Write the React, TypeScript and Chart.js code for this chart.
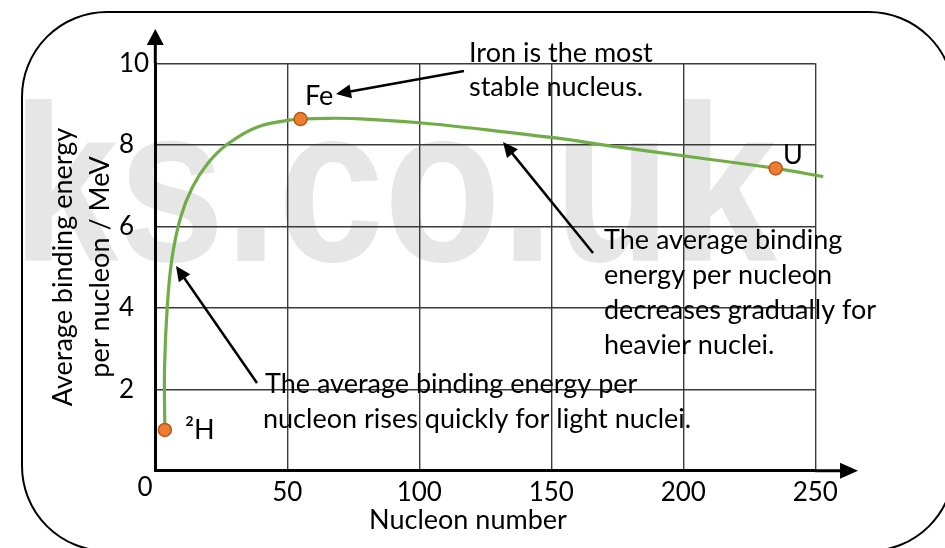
import React, { useEffect, useRef } from 'react';
import { Chart, registerables } from 'chart.js';

Chart.register(...registerables);

// Curve of average binding energy per nucleon (MeV) against nucleon number
const curveX = [3.6, 3.5, 4.5, 6.3, 9.5, 14, 20, 27, 38, 50, 55, 65, 76, 100, 125, 150, 175, 200, 235, 253];
const curveY = [1.0, 2.5, 4.0, 5.2, 6.2, 6.95, 7.55, 8.0, 8.42, 8.6, 8.63, 8.65, 8.64, 8.54, 8.37, 8.18, 7.95, 7.73, 7.42, 7.22];

// Highlighted nuclei
const markerNames = ['²H', 'Fe', 'U'];
const markerX = [3.6, 55, 235];
const markerY = [1.0, 8.63, 7.42];

// Axis settings
const xMin = 0;
const xMax = 250;
const xStep = 50;
const yMin = 0;
const yMax = 10;
const yStep = 2;
const xTitle = 'Nucleon number';
const yTitle = ['Average binding energy', 'per nucleon / MeV'];

const noteIron = ['Iron is the most', 'stable nucleus.'];
const noteHeavy = ['The average binding', 'energy per nucleon', 'decreases gradually for', 'heavier nuclei.'];
const noteLight = ['The average binding energy per', 'nucleon rises quickly for light nuclei.'];

const FONT = 'Lato, "Open Sans", sans-serif';
const FS = 27;
const TFS = 26;

function drawArrow(ctx: CanvasRenderingContext2D, x1: number, y1: number, x2: number, y2: number, head = 15, half = 7, lw = 2.5) {
  const ang = Math.atan2(y2 - y1, x2 - x1);
  const bx = x2 - head * Math.cos(ang);
  const by = y2 - head * Math.sin(ang);
  ctx.save();
  ctx.strokeStyle = '#000';
  ctx.fillStyle = '#000';
  ctx.lineWidth = lw;
  ctx.beginPath();
  ctx.moveTo(x1, y1);
  ctx.lineTo(bx + 2 * Math.cos(ang), by + 2 * Math.sin(ang));
  ctx.stroke();
  ctx.beginPath();
  ctx.moveTo(x2, y2);
  ctx.lineTo(bx + half * Math.sin(ang), by - half * Math.cos(ang));
  ctx.lineTo(bx - half * Math.sin(ang), by + half * Math.cos(ang));
  ctx.closePath();
  ctx.fill();
  ctx.restore();
}

const decorPlugin = {
  id: 'decor',
  beforeDraw(chart: any) {
    const ctx = chart.ctx as CanvasRenderingContext2D;
    ctx.save();
    ctx.fillStyle = '#e6e6e6';
    ctx.font = 'bold 223px "Liberation Sans", Arial, sans-serif';
    ctx.textBaseline = 'alphabetic';
    ctx.textAlign = 'left';
    ctx.fillText('ks.co.uk', 12, 261, 765);
    ctx.restore();
  },
  afterDraw(chart: any) {
    const ctx = chart.ctx as CanvasRenderingContext2D;
    const area = chart.chartArea;
    const xs = chart.scales.x;
    const ys = chart.scales.y;
    const ox = xs.getPixelForValue(0);
    const oy = ys.getPixelForValue(0);

    ctx.save();
    // rounded frame
    ctx.strokeStyle = '#000';
    ctx.lineWidth = 2;
    const L = 22, T = 12, R = 954, B = 551, r = 85;
    ctx.beginPath();
    ctx.moveTo(L + r, T);
    ctx.lineTo(R - r, T);
    ctx.arcTo(R, T, R, T + r, r);
    ctx.lineTo(R, B - r);
    ctx.arcTo(R, B, R - r, B, r);
    ctx.lineTo(L + r, B);
    ctx.arcTo(L, B, L, B - r, r);
    ctx.lineTo(L, T + r);
    ctx.arcTo(L, T, L + r, T, r);
    ctx.closePath();
    ctx.stroke();

    // axis extensions with arrow heads
    ctx.lineWidth = 3;
    ctx.beginPath();
    ctx.moveTo(ox, area.top);
    ctx.lineTo(ox, 44);
    ctx.moveTo(area.right, oy);
    ctx.lineTo(841, oy);
    ctx.stroke();
    ctx.fillStyle = '#000';
    ctx.beginPath();
    ctx.moveTo(ox, 29);
    ctx.lineTo(ox - 8.5, 45);
    ctx.lineTo(ox + 8.5, 45);
    ctx.closePath();
    ctx.fill();
    ctx.beginPath();
    ctx.moveTo(858, oy);
    ctx.lineTo(840, oy - 8);
    ctx.lineTo(840, oy + 8);
    ctx.closePath();
    ctx.fill();

    // texts
    ctx.fillStyle = '#000';
    ctx.font = `${FS}px ${FONT}`;
    ctx.textBaseline = 'alphabetic';
    ctx.textAlign = 'left';
    noteIron.forEach((t, i) => ctx.fillText(t, 469, 62 + i * 34));
    noteHeavy.forEach((t, i) => ctx.fillText(t, 604, 249 + i * 35));
    ctx.fillText(noteLight[0], 265, 393);
    ctx.fillText(noteLight[1], 263, 428);

    // marker labels
    ctx.fillText(markerNames[0], 185, 439);
    ctx.fillText(markerNames[1], 305, 105);
    ctx.fillText(markerNames[2], 783, 164);

    // origin label and x title
    ctx.textAlign = 'center';
    ctx.font = `${TFS}px ${FONT}`;
    ctx.fillText('0', 145, 496);
    ctx.font = `${FS}px ${FONT}`;
    ctx.fillText(xTitle, 468, 529);

    ctx.restore();

    drawArrow(ctx, 464, 71, 336, 94);
    drawArrow(ctx, 593, 253, 503, 142);
    drawArrow(ctx, 257, 383, 176, 266);
  },
};

export default function App() {
  const ref = useRef<HTMLCanvasElement>(null);
  useEffect(() => {
    const canvas = ref.current;
    if (!canvas) return;
    Chart.defaults.font.family = FONT;
    const chart = new Chart(canvas, {
      type: 'scatter',
      data: {
        datasets: [
          {
            label: 'Nuclei',
            data: markerX.map((x, i) => ({ x, y: markerY[i] })),
            showLine: false,
            pointRadius: 6.5,
            pointBackgroundColor: '#ED7D31',
            pointBorderColor: '#B9571A',
            pointBorderWidth: 1.5,
            clip: false,
          } as any,
          {
            label: 'Binding energy',
            data: curveX.map((x, i) => ({ x, y: curveY[i] })),
            showLine: true,
            borderColor: '#70AD47',
            borderWidth: 3.2,
            pointRadius: 0,
            tension: 0.4,
            fill: false,
            clip: false,
          } as any,
        ],
      },
      options: {
        animation: false,
        responsive: false,
        maintainAspectRatio: false,
        events: [],
        layout: { padding: { left: 119, top: 63.3, right: 129.7, bottom: 0 } },
        plugins: { legend: { display: false }, tooltip: { enabled: false } },
        scales: {
          x: {
            type: 'linear',
            min: xMin,
            max: xMax,
            afterFit: (s: any) => { s.height = 77.3; },
            ticks: {
              stepSize: xStep,
              color: '#000',
              font: { size: TFS, family: FONT },
              padding: 6,
              maxRotation: 0,
              callback: (v: any) => (v === 0 ? '' : String(v)),
            },
            grid: {
              drawTicks: false,
              color: (c: any) => (c.tick && c.tick.value === 0 ? 'rgba(0,0,0,0)' : '#3a3a3a'),
              lineWidth: 1.4,
            },
            border: { display: true, color: '#000', width: 3 },
          },
          y: {
            type: 'linear',
            min: yMin,
            max: yMax,
            afterFit: (s: any) => { s.width = 36.3; },
            ticks: {
              stepSize: yStep,
              color: '#000',
              crossAlign: 'far',
              font: { size: TFS, family: FONT },
              callback: (v: any) => (v === 0 ? '' : String(v)),
            },
            grid: {
              drawTicks: false,
              color: (c: any) => (c.tick && c.tick.value === 0 ? 'rgba(0,0,0,0)' : '#3a3a3a'),
              lineWidth: 1.4,
            },
            border: { display: true, color: '#000', width: 3 },
            title: {
              display: true,
              text: yTitle,
              color: '#000',
              font: { size: FS, family: FONT, lineHeight: '37px' },
              padding: { top: -74.5, bottom: 0 },
            },
          },
        },
      },
      plugins: [decorPlugin],
    } as any);
    return () => chart.destroy();
  }, []);
  return (
    <div style={{ position: 'absolute', left: 0, top: 0, width: 945, height: 548, background: '#fff' }}>
      <canvas ref={ref} width={945} height={548} style={{ display: 'block', width: 945, height: 548 }} />
    </div>
  );
}
